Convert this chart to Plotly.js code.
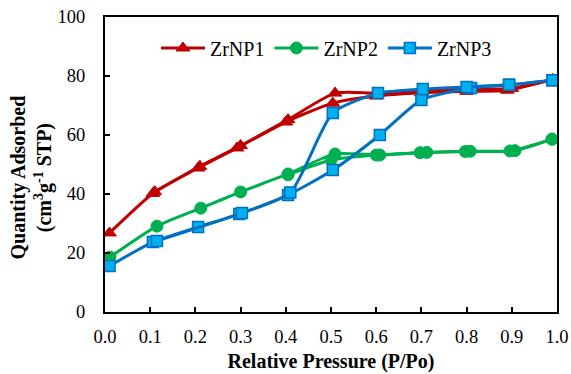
<!DOCTYPE html>
<html><head><meta charset="utf-8">
<script src="https://cdn.plot.ly/plotly-3.0.1.min.js"></script>
<style>html,body{margin:0;padding:0;background:#fff}#chart{width:571px;height:374px}</style>
</head><body><div id="chart"></div>
<script>
// ZrNP1 (adsorption / desorption branches)
const np1AdsX = [0.01, 0.106, 0.206, 0.292, 0.40, 0.504, 0.60, 0.70, 0.80, 0.89, 0.99];
const np1AdsY = [26.8, 40.2, 48.8, 55.6, 64.4, 70.8, 73.2, 74.3, 74.8, 75.2, 78.8];
const np1DesX = [0.99, 0.90, 0.80, 0.70, 0.60, 0.509, 0.405, 0.30, 0.21, 0.11];
const np1DesY = [78.8, 75.8, 75.5, 75.0, 74.2, 74.2, 65.2, 56.4, 49.4, 40.8];
// ZrNP2
const np2AdsX = [0.011, 0.115, 0.212, 0.30, 0.405, 0.509, 0.608, 0.697, 0.797, 0.896, 0.989];
const np2AdsY = [18.6, 29.1, 35.2, 40.7, 46.8, 53.6, 53.2, 54.0, 54.4, 54.6, 58.6];
const np2DesX = [0.989, 0.907, 0.808, 0.712, 0.60, 0.50, 0.405];
const np2DesY = [58.6, 54.7, 54.5, 54.1, 53.2, 51.5, 46.5];
// ZrNP3
const np3AdsX = [0.01, 0.106, 0.206, 0.297, 0.405, 0.504, 0.608, 0.70, 0.81, 0.894, 0.99];
const np3AdsY = [15.6, 23.7, 28.8, 33.2, 39.7, 48.1, 60.0, 71.9, 75.9, 77.0, 78.6];
const np3DesX = [0.99, 0.894, 0.80, 0.703, 0.604, 0.504, 0.41, 0.303, 0.115];
const np3DesY = [78.6, 77.0, 76.3, 75.6, 74.2, 67.5, 40.5, 33.6, 24.1];

const seriesNames = ["ZrNP1", "ZrNP2", "ZrNP3"];
const xTicks = [0, 0.1, 0.2, 0.3, 0.4, 0.5, 0.6, 0.7, 0.8, 0.9, 1.0];
const yTicks = [0, 20, 40, 60, 80, 100];
const xTitle = "Relative Pressure (P/Po)";
const yTitle = "Quantity Adsorbed<br>(cm<sup>3</sup>g<sup>-1</sup> STP)";

const styles = [
  {line: "#C00000", marker: {symbol: "triangle-up", size: 12, color: "#C00000", line: {color: "#C00000", width: 1}}},
  {line: "#00B050", marker: {symbol: "circle", size: 12, color: "#00B050", line: {color: "#00B050", width: 1}}},
  {line: "#0070C0", marker: {symbol: "square", size: 11, color: "#00B0F0", line: {color: "#0070C0", width: 1.5}}}
];
const data = [[np1AdsX, np1AdsY, np1DesX, np1DesY], [np2AdsX, np2AdsY, np2DesX, np2DesY], [np3AdsX, np3AdsY, np3DesX, np3DesY]];

const traces = [];
data.forEach((d, i) => {
  const st = styles[i];
  traces.push({x: d[0], y: d[1], mode: "lines+markers", name: seriesNames[i], legendgroup: seriesNames[i],
    line: {color: st.line, width: 3, shape: "spline", smoothing: 0.6}, marker: st.marker});
  traces.push({x: d[2], y: d[3], mode: "lines+markers", name: seriesNames[i], legendgroup: seriesNames[i], showlegend: false,
    line: {color: st.line, width: 3, shape: "spline", smoothing: 0.6}, marker: st.marker});
});

const font = "Times New Roman, Liberation Serif, serif";
const layout = {
  width: 571, height: 374,
  margin: {l: 105, r: 14, t: 17, b: 62},
  paper_bgcolor: "#fff", plot_bgcolor: "#fff",
  font: {family: font, color: "#000", size: 18.5},
  showlegend: true,
  legend: {orientation: "h", x: 0.49, xanchor: "center", y: 0.895, yanchor: "middle",
    font: {family: font, size: 20, color: "#000"}, bgcolor: "rgba(0,0,0,0)", itemwidth: 44, tracegroupgap: 0},
  xaxis: {range: [0, 1.0], tickvals: xTicks, ticktext: xTicks.map(v => v.toFixed(1)),
    showline: true, linecolor: "#000", linewidth: 2, mirror: true, ticks: "inside", ticklen: 5, tickwidth: 2, tickcolor: "#000",
    showgrid: false, zeroline: false, tickfont: {family: font, size: 18.5}, ticklabelstandoff: 7,
    title: {text: "<b>" + xTitle + "</b>", font: {family: font, size: 20}, standoff: 8}},
  yaxis: {range: [0, 100], tickvals: yTicks,
    showline: true, linecolor: "#000", linewidth: 2, mirror: true, ticks: "inside", ticklen: 5, tickwidth: 2, tickcolor: "#000",
    showgrid: false, zeroline: false, tickfont: {family: font, size: 18.5}, ticklabelstandoff: 14},
  annotations: [{text: "<b>" + yTitle + "</b>", xref: "paper", yref: "paper", x: -0.162, y: 0.455,
    xanchor: "center", yanchor: "middle", textangle: -90, showarrow: false, font: {family: font, size: 20, color: "#000"}}]
};
Plotly.newPlot("chart", traces, layout, {displayModeBar: false, staticPlot: true});
</script></body></html>
